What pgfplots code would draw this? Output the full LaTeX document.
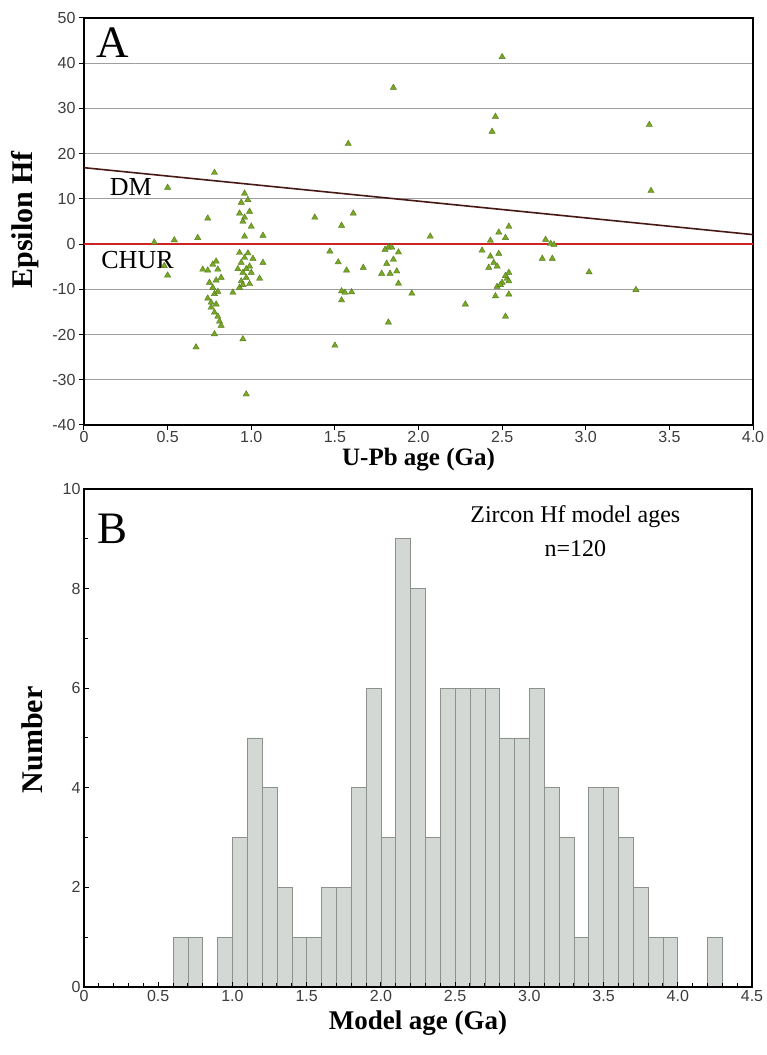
\documentclass[border=0pt]{standalone}
\usepackage{pgfplots}
\pgfplotsset{compat=1.18}
\usepackage{fontspec}
\setmainfont{Liberation Serif}
\newfontfamily\arial{Liberation Sans}
\definecolor{mk}{RGB}{118,168,36}
\definecolor{mkd}{RGB}{85,120,30}
\definecolor{dmc}{RGB}{70,25,20}
\definecolor{churc}{RGB}{205,35,35}
\definecolor{barf}{RGB}{212,216,212}
\definecolor{bare}{RGB}{140,145,140}
\definecolor{tk}{RGB}{60,60,60}
\begin{document}
\begin{tikzpicture}
\useasboundingbox (0,0) rectangle (767pt,1055pt);
\begin{axis}[
 at={(84pt,630pt)}, anchor=south west, scale only axis, width=669pt, height=407pt,
 xmin=0, xmax=4, ymin=-40, ymax=50,
 xtick={0,0.5,...,4}, xticklabels={0,0.5,1.0,1.5,2.0,2.5,3.0,3.5,4.0},
 ytick={-40,-30,...,50}, yticklabels={-40,-30,-20,-10,0,10,20,30,40,50},
 tick align=outside, tick pos=left, major tick length=5pt,
 tick style={black, line width=1pt},
 ticklabel style={font=\arial\fontsize{16}{16}\selectfont, text=tk},
 xticklabel style={yshift=2pt},
 ymajorgrids, major grid style={gray!75, line width=1pt},
 axis line style={line width=1.6pt},
 xlabel={U-Pb age (Ga)}, ylabel={Epsilon Hf},
 xlabel style={font=\bfseries\fontsize{25}{25}\selectfont, at={(axis description cs:0.5,-0.086)}, anchor=center},
 ylabel style={font=\bfseries\fontsize{30}{30}\selectfont, at={(axis description cs:-0.088,0.504)}, anchor=center},
]
\addplot[churc, line width=1.6pt] coordinates {(0,0) (4,0)};
\addplot[dmc, line width=1.6pt] coordinates {(0,16.9) (4,2.1)};
\addplot[only marks, mark=triangle*, mark size=3.6pt, mark options={fill=mk, draw=mkd, line width=0.4pt}] coordinates {
(0.42,0.4) (0.50,12.5) (0.50,-6.9) (0.54,0.9) (0.48,-4.8)
(0.68,1.4) (0.74,5.7) (0.78,15.8) (0.71,-5.6) (0.74,-5.8) (0.79,-3.8) (0.80,-5.6)
(0.82,-7.4) (0.75,-8.5) (0.77,-9.6) (0.78,-11.0) (0.76,-12.9) (0.79,-13.3) (0.78,-15.1)
(0.81,-17.1) (0.80,-16.0) (0.78,-19.9) (0.67,-22.8) (0.77,-4.5) (0.80,-10.5) (0.76,-14.0)
(0.82,-18.0) (0.79,-8.0) (0.74,-12.0)
(0.96,11.2) (0.94,9.2) (0.99,7.2) (0.96,5.9) (1.00,3.9) (0.95,5.0) (0.93,6.8) (0.98,9.8)
(0.96,1.7) (1.07,1.9) (0.93,-1.9) (0.94,-4.1) (0.95,-6.3) (0.99,-4.9) (1.00,-6.3)
(0.94,-8.2) (0.97,-7.4) (0.93,-9.6) (1.07,-4.1) (1.05,-7.6) (0.89,-10.7) (0.95,-21.0)
(0.97,-33.2) (0.96,-3.0) (0.98,-2.0) (0.92,-5.5) (0.97,-5.5) (1.01,-3.2) (0.95,-9.0)
(0.99,-8.8)
(1.38,5.9) (1.61,6.8) (1.54,4.1) (1.58,22.2) (1.47,-1.6) (1.52,-4.0) (1.57,-5.8)
(1.67,-5.2) (1.54,-10.4) (1.56,-10.7) (1.60,-10.6) (1.54,-12.4) (1.50,-22.4)
(1.82,-0.7) (1.84,-0.7) (1.88,-1.8) (1.81,-4.3) (1.85,-3.4) (1.78,-6.5) (1.83,-6.5)
(1.87,-6.0) (1.88,-8.7) (1.96,-10.9) (1.82,-17.3) (1.85,34.6) (2.07,1.7) (1.80,-1.2)
(2.28,-13.3) (2.38,-1.4) (2.44,24.9) (2.46,28.2) (2.50,41.4) (2.54,3.9) (2.48,2.6)
(2.52,1.4) (2.43,0.8) (2.48,-2.1) (2.43,-2.7) (2.45,-4.1) (2.47,-4.9) (2.42,-5.2)
(2.54,-6.3) (2.53,-7.6) (2.50,-8.5) (2.47,-9.4) (2.54,-8.2) (2.46,-11.5) (2.54,-11.1)
(2.52,-16.0) (2.49,-9.0) (2.52,-7.0)
(2.76,1.0) (2.79,0.1) (2.81,-0.1) (2.74,-3.2) (2.80,-3.2) (3.02,-6.2) (3.30,-10.1)
(3.39,11.8) (3.38,26.4)
};
\node[font=\fontsize{45}{45}\selectfont] at (axis cs:0.17,44.5) {A};
\node[font=\fontsize{26}{26}\selectfont] at (axis cs:0.28,12.7) {DM};
\node[font=\fontsize{26}{26}\selectfont] at (axis cs:0.32,-3.6) {CHUR};
\end{axis}
\begin{axis}[
 at={(84pt,68pt)}, anchor=south west, scale only axis, width=668pt, height=498pt,
 xmin=0, xmax=4.5, ymin=0, ymax=10,
 xtick={0,0.5,...,4.5}, xticklabels={0,0.5,1.0,1.5,2.0,2.5,3.0,3.5,4.0,4.5},
 minor x tick num=4,
 ytick={0,2,...,10}, yticklabels={0,2,4,6,8,10}, minor y tick num=1,
 tick align=inside, tick pos=left, major tick length=5pt, minor tick length=4pt,
 tick style={black, line width=1pt},
 ticklabel style={font=\arial\fontsize{16}{16}\selectfont, text=tk},
 axis line style={line width=1.6pt},
 xlabel={Model age (Ga)}, ylabel={Number},
 xlabel style={font=\bfseries\fontsize{27}{27}\selectfont, at={(axis description cs:0.5,-0.072)}, anchor=center},
 ylabel style={font=\bfseries\fontsize{30}{30}\selectfont, at={(axis description cs:-0.078,0.496)}, anchor=center},
 axis on top,
]
\addplot[ybar interval, fill=barf, draw=bare, line width=0.6pt] coordinates {
(0.6,1) (0.7,1) (0.8,0) (0.9,1) (1.0,3) (1.1,5) (1.2,4) (1.3,2) (1.4,1) (1.5,1)
(1.6,2) (1.7,2) (1.8,4) (1.9,6) (2.0,3) (2.1,9) (2.2,8) (2.3,3) (2.4,6) (2.5,6)
(2.6,6) (2.7,6) (2.8,5) (2.9,5) (3.0,6) (3.1,4) (3.2,3) (3.3,1) (3.4,4) (3.5,4)
(3.6,3) (3.7,2) (3.8,1) (3.9,1) (4.0,0) (4.1,0) (4.2,1) (4.3,0)
};
\node[font=\fontsize{45}{45}\selectfont] at (axis cs:0.195,9.2) {B};
\node[font=\fontsize{24}{24}\selectfont] at (axis cs:3.31,9.44) {Zircon Hf model ages};
\node[font=\fontsize{24}{24}\selectfont] at (axis cs:3.31,8.80) {n=120};
\end{axis}
\end{tikzpicture}
\end{document}
